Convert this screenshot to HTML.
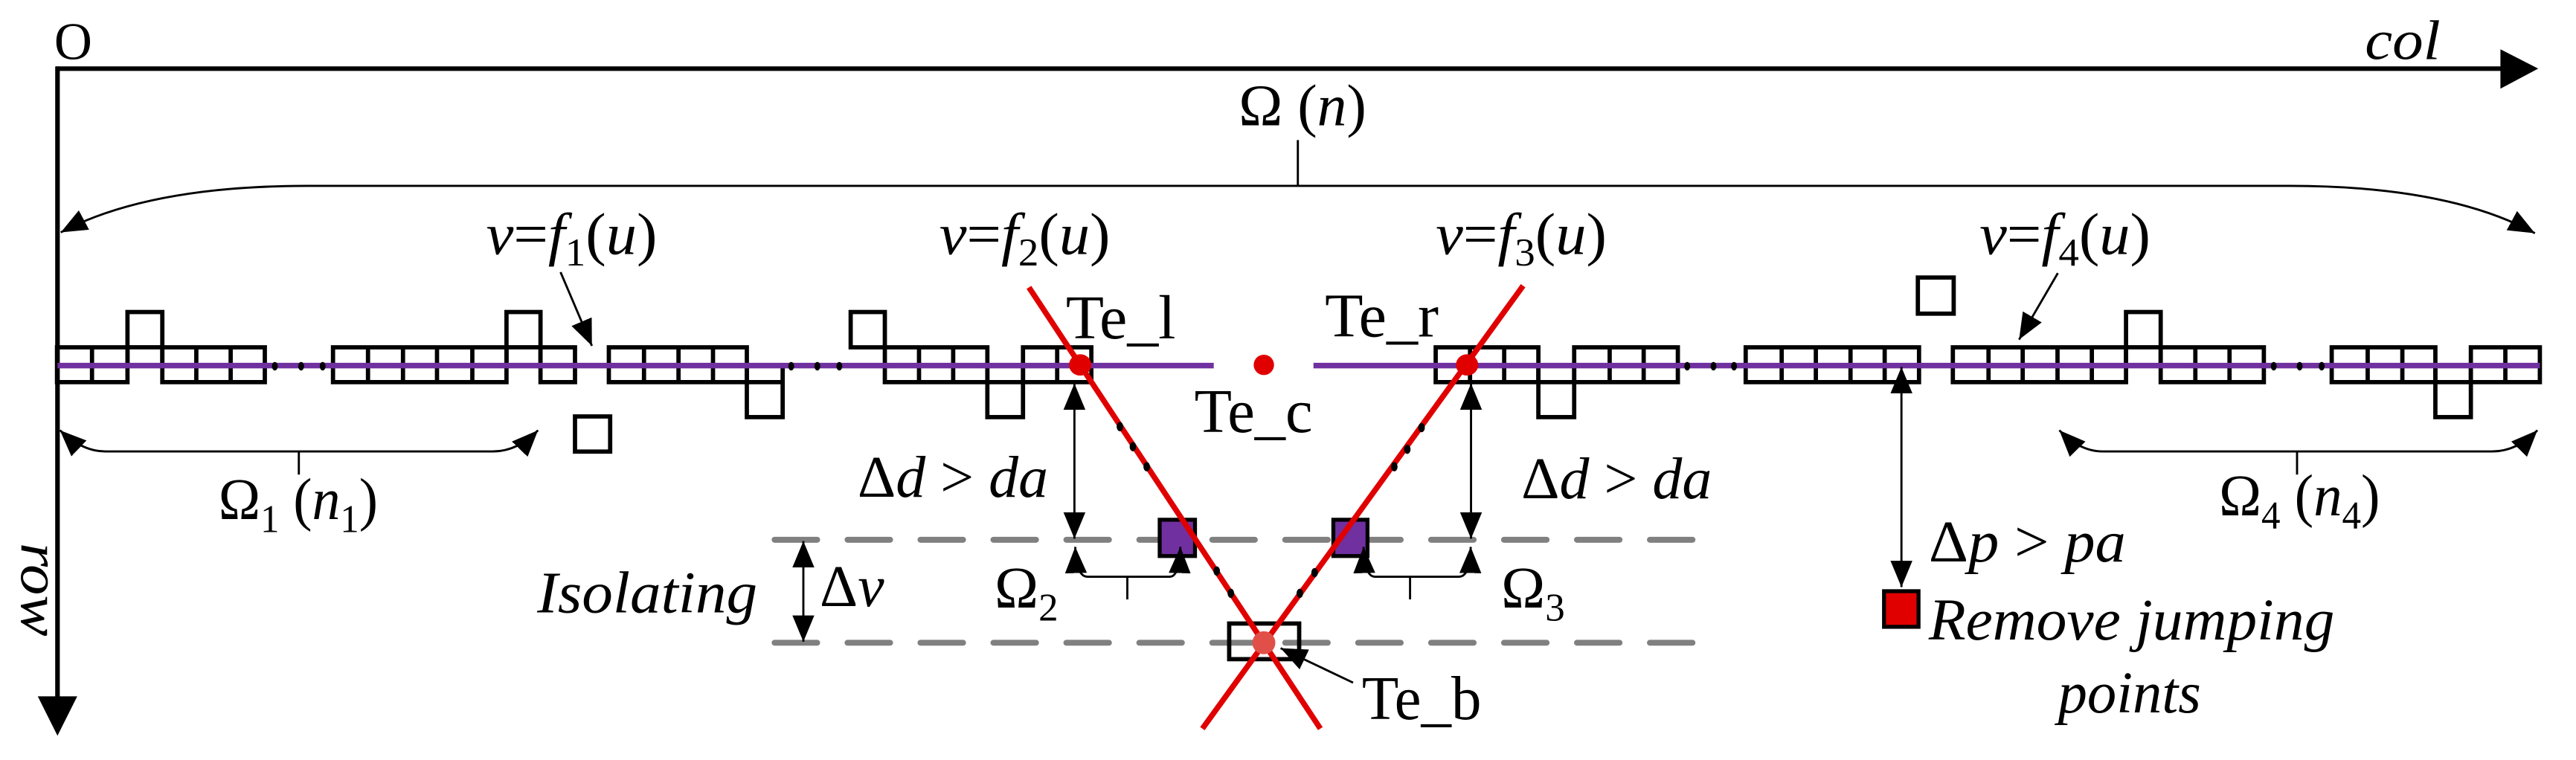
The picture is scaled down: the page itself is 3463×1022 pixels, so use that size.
<!DOCTYPE html>
<html><head><meta charset="utf-8"><style>
html,body{margin:0;padding:0;background:#fff;}
svg{display:block;}
svg text{font-family:'Liberation Serif','DejaVu Serif',serif;fill:#000;}
.c{fill:none;stroke:#000;stroke-width:2.6;}
.l{fill:none;stroke:#000;stroke-width:1.3;}
.i{font-style:italic;}
</style></head><body>
<svg width="3463" height="1022" viewBox="0 0 1568 462.8" preserveAspectRatio="none" xmlns="http://www.w3.org/2000/svg" font-family="Liberation Serif, DejaVu Serif, serif">
<defs>
<marker id="a" markerUnits="userSpaceOnUse" markerWidth="16" markerHeight="14" refX="12" refY="5" orient="auto-start-reverse" viewBox="0 0 12 10">
<path d="M0,0 L12,5 L0,10 z" fill="#000"/></marker>
</defs>
<rect width="1568" height="462.8" fill="#fff"/>

<!-- axes -->
<line x1="34" y1="41.8" x2="1524" y2="41.8" stroke="#000" stroke-width="2.8"/>
<polygon points="1522,30 1545,41.8 1522,54" fill="#000"/>
<line x1="35" y1="40.5" x2="35" y2="426" stroke="#000" stroke-width="2.8"/>
<polygon points="23,424 35,448 47,424" fill="#000"/>
<text x="33" y="36" font-size="32" font-family="Liberation Serif, serif">O</text>
<text x="1439.5" y="36" font-size="34" class="i" font-family="Liberation Serif, serif" textLength="46" lengthAdjust="spacingAndGlyphs">col</text>
<text transform="translate(13,330.5) rotate(90)" font-size="34" class="i" font-family="Liberation Serif, serif" textLength="57" lengthAdjust="spacingAndGlyphs">row</text>

<g font-family="Liberation Serif, serif">
<!-- Omega(n) brace -->
<path class="l" d="M37,141.5 Q90,113.2 187,113.2 L1393.8,113.2 Q1490,113.2 1543,142" marker-start="url(#a)" marker-end="url(#a)"/>
<line class="l" x1="790" y1="85.3" x2="790" y2="113.2"/>
<text x="754" y="76.2" font-size="36">Ω (<tspan class="i">n</tspan>)</text>

<!-- f labels -->
<text x="296" y="154.7" font-size="36" class="i" textLength="104" lengthAdjust="spacingAndGlyphs">v<tspan font-style="normal">=</tspan>f<tspan font-style="normal" font-size="24" dy="7">1</tspan><tspan font-style="normal" dy="-7">(</tspan>u<tspan font-style="normal">)</tspan></text>
<text x="571.8" y="154.7" font-size="36" class="i" textLength="104" lengthAdjust="spacingAndGlyphs">v<tspan font-style="normal">=</tspan>f<tspan font-style="normal" font-size="24" dy="7">2</tspan><tspan font-style="normal" dy="-7">(</tspan>u<tspan font-style="normal">)</tspan></text>
<text x="874" y="154.7" font-size="36" class="i" textLength="104" lengthAdjust="spacingAndGlyphs">v<tspan font-style="normal">=</tspan>f<tspan font-style="normal" font-size="24" dy="7">3</tspan><tspan font-style="normal" dy="-7">(</tspan>u<tspan font-style="normal">)</tspan></text>
<text x="1205" y="154.7" font-size="36" class="i" textLength="104" lengthAdjust="spacingAndGlyphs">v<tspan font-style="normal">=</tspan>f<tspan font-style="normal" font-size="24" dy="7">4</tspan><tspan font-style="normal" dy="-7">(</tspan>u<tspan font-style="normal">)</tspan></text>
<line class="l" x1="341.2" y1="165.7" x2="360.3" y2="210.6" marker-end="url(#a)"/>
<line class="l" x1="1252.6" y1="166.3" x2="1229" y2="206.8" marker-end="url(#a)"/>

<!-- cells: group1 -->
<g>
<rect class="c" x="34.7" y="211.5" width="42.9" height="21.2"/>
<line class="c" x1="56" y1="211.5" x2="56" y2="232.7"/>
<rect class="c" x="77.6" y="190" width="21.2" height="32.6"/>
<line class="c" x1="77.6" y1="211.5" x2="98.8" y2="211.5"/>
<rect class="c" x="98.8" y="211.5" width="62.4" height="21.2"/>
<line class="c" x1="119.5" y1="211.5" x2="119.5" y2="232.7"/>
<line class="c" x1="140.4" y1="211.5" x2="140.4" y2="232.7"/>
<!-- group2 -->
<rect class="c" x="202.7" y="211.5" width="105.6" height="21.2"/>
<line class="c" x1="224" y1="211.5" x2="224" y2="232.7"/>
<line class="c" x1="245.3" y1="211.5" x2="245.3" y2="232.7"/>
<line class="c" x1="266" y1="211.5" x2="266" y2="232.7"/>
<line class="c" x1="287.5" y1="211.5" x2="287.5" y2="232.7"/>
<rect class="c" x="308.3" y="190" width="20.7" height="32.6"/>
<line class="c" x1="308.3" y1="211.5" x2="329" y2="211.5"/>
<rect class="c" x="329" y="211.5" width="21" height="21.2"/>
<!-- group3 -->
<rect class="c" x="370.6" y="211.5" width="84" height="21.2"/>
<line class="c" x1="392" y1="211.5" x2="392" y2="232.7"/>
<line class="c" x1="413" y1="211.5" x2="413" y2="232.7"/>
<line class="c" x1="434" y1="211.5" x2="434" y2="232.7"/>
<rect class="c" x="454.6" y="222.6" width="21.8" height="31.4"/>
<line class="c" x1="454.6" y1="232.7" x2="476.4" y2="232.7"/>
<!-- group4 -->
<rect class="c" x="517.8" y="190" width="20.8" height="21.5"/>
<rect class="c" x="538.6" y="211.5" width="62.4" height="21.2"/>
<line class="c" x1="559.4" y1="211.5" x2="559.4" y2="232.7"/>
<line class="c" x1="580.2" y1="211.5" x2="580.2" y2="232.7"/>
<rect class="c" x="601" y="222.6" width="21.7" height="31.4"/>
<line class="c" x1="601" y1="232.7" x2="622.7" y2="232.7"/>
<rect class="c" x="622.7" y="211.5" width="41.6" height="21.2"/>
<line class="c" x1="643.5" y1="211.5" x2="643.5" y2="232.7"/>
<!-- group5 -->
<rect class="c" x="873.9" y="211.5" width="62.5" height="21.2"/>
<line class="c" x1="894.8" y1="211.5" x2="894.8" y2="232.7"/>
<line class="c" x1="915.6" y1="211.5" x2="915.6" y2="232.7"/>
<rect class="c" x="936.4" y="222.6" width="21.8" height="31.4"/>
<line class="c" x1="936.4" y1="232.7" x2="958.2" y2="232.7"/>
<rect class="c" x="958.2" y="211.5" width="63.1" height="21.2"/>
<line class="c" x1="979.8" y1="211.5" x2="979.8" y2="232.7"/>
<line class="c" x1="1000.5" y1="211.5" x2="1000.5" y2="232.7"/>
<!-- group6 -->
<rect class="c" x="1062.6" y="211.5" width="105.5" height="21.2"/>
<line class="c" x1="1084.5" y1="211.5" x2="1084.5" y2="232.7"/>
<line class="c" x1="1105.3" y1="211.5" x2="1105.3" y2="232.7"/>
<line class="c" x1="1126.4" y1="211.5" x2="1126.4" y2="232.7"/>
<line class="c" x1="1147.2" y1="211.5" x2="1147.2" y2="232.7"/>
<!-- group7 -->
<rect class="c" x="1188.7" y="211.5" width="105.4" height="21.2"/>
<line class="c" x1="1210.4" y1="211.5" x2="1210.4" y2="232.7"/>
<line class="c" x1="1231.2" y1="211.5" x2="1231.2" y2="232.7"/>
<line class="c" x1="1252.4" y1="211.5" x2="1252.4" y2="232.7"/>
<line class="c" x1="1273.3" y1="211.5" x2="1273.3" y2="232.7"/>
<rect class="c" x="1294.1" y="190" width="21.1" height="32.6"/>
<line class="c" x1="1294.1" y1="211.5" x2="1315.2" y2="211.5"/>
<rect class="c" x="1315.2" y="211.5" width="62.8" height="21.2"/>
<line class="c" x1="1336.3" y1="211.5" x2="1336.3" y2="232.7"/>
<line class="c" x1="1357.1" y1="211.5" x2="1357.1" y2="232.7"/>
<!-- group8 -->
<rect class="c" x="1419.3" y="211.5" width="63.1" height="21.2"/>
<line class="c" x1="1441.2" y1="211.5" x2="1441.2" y2="232.7"/>
<line class="c" x1="1462.3" y1="211.5" x2="1462.3" y2="232.7"/>
<rect class="c" x="1482.4" y="222.6" width="21.6" height="31.4"/>
<line class="c" x1="1482.4" y1="232.7" x2="1504" y2="232.7"/>
<rect class="c" x="1504" y="211.5" width="42" height="21.2"/>
<line class="c" x1="1525" y1="211.5" x2="1525" y2="232.7"/>
<!-- isolated -->
<rect class="c" x="350" y="253.6" width="21.4" height="21.4"/>
<rect class="c" x="1167.4" y="169" width="21.8" height="22"/>
</g>

<!-- purple lines -->
<line x1="35" y1="222.6" x2="738.8" y2="222.6" stroke="#7030a0" stroke-width="3.4"/>
<line x1="799.5" y1="222.6" x2="1546" y2="222.6" stroke="#7030a0" stroke-width="3.4"/>
<g fill="#000">
<ellipse cx="167.3" cy="223" rx="1.8" ry="2.6"/><ellipse cx="183.3" cy="223" rx="1.8" ry="2.6"/><ellipse cx="196.4" cy="223" rx="1.8" ry="2.6"/>
<ellipse cx="481.6" cy="223" rx="1.8" ry="2.6"/><ellipse cx="497.5" cy="223" rx="1.8" ry="2.6"/><ellipse cx="510.9" cy="223" rx="1.8" ry="2.6"/>
<ellipse cx="1027" cy="223" rx="1.8" ry="2.6"/><ellipse cx="1043" cy="223" rx="1.8" ry="2.6"/><ellipse cx="1055.5" cy="223" rx="1.8" ry="2.6"/>
<ellipse cx="1384" cy="223" rx="1.8" ry="2.6"/><ellipse cx="1399.8" cy="223" rx="1.8" ry="2.6"/><ellipse cx="1413.2" cy="223" rx="1.8" ry="2.6"/>
</g>

<!-- Omega1 brace -->
<path class="l" d="M36.5,262 Q50,274.9 64,274.9 L299.7,274.9 Q315,274.9 327.5,262" marker-start="url(#a)" marker-end="url(#a)"/>
<line class="l" x1="181.9" y1="274.9" x2="181.9" y2="289"/>
<text x="133" y="316" font-size="36" textLength="97" lengthAdjust="spacingAndGlyphs">Ω<tspan font-size="24" dy="8">1</tspan><tspan dy="-8"> (</tspan><tspan class="i">n</tspan><tspan font-size="24" dy="8">1</tspan><tspan dy="-8">)</tspan></text>
<!-- Omega4 brace -->
<path class="l" d="M1253.5,262 Q1266,274.9 1280,274.9 L1516.7,274.9 Q1532,274.9 1544.5,262" marker-start="url(#a)" marker-end="url(#a)"/>
<line class="l" x1="1398.2" y1="274.9" x2="1398.2" y2="289"/>
<text x="1350.7" y="313.8" font-size="36" textLength="98" lengthAdjust="spacingAndGlyphs">Ω<tspan font-size="24" dy="8">4</tspan><tspan dy="-8"> (</tspan><tspan class="i">n</tspan><tspan font-size="24" dy="8">4</tspan><tspan dy="-8">)</tspan></text>

<!-- dashed lines -->
<line x1="471.5" y1="328.7" x2="1034" y2="328.7" stroke="#808080" stroke-width="3.6" stroke-linecap="round" stroke-dasharray="25.9 18.5"/>
<line x1="471.5" y1="391.4" x2="1034" y2="391.4" stroke="#808080" stroke-width="3.6" stroke-linecap="round" stroke-dasharray="25.9 18.5"/>

<!-- purple squares & Te_b box -->
<rect x="705.9" y="316.5" width="21.5" height="22.1" fill="#7030a0" stroke="#000" stroke-width="2.4"/>
<rect x="811.6" y="316.5" width="20.8" height="22.1" fill="#7030a0" stroke="#000" stroke-width="2.4"/>
<rect class="c" x="748.2" y="379.7" width="42.6" height="21.7"/>

<!-- red lines -->
<line x1="626.3" y1="175" x2="803.7" y2="443.7" stroke="#e00000" stroke-width="3.4"/>
<line x1="927.1" y1="174" x2="731.9" y2="443.7" stroke="#e00000" stroke-width="3.4"/>
<g fill="#000">
<ellipse cx="681.7" cy="259.8" rx="2" ry="2.8"/><ellipse cx="689.6" cy="272" rx="2" ry="2.8"/><ellipse cx="698" cy="284.2" rx="2" ry="2.8"/>
<ellipse cx="740.6" cy="347.7" rx="2" ry="2.8"/><ellipse cx="749.2" cy="361.3" rx="2" ry="2.8"/>
<ellipse cx="865.3" cy="260.4" rx="2" ry="2.8"/><ellipse cx="856.6" cy="273.6" rx="2" ry="2.8"/><ellipse cx="848.7" cy="284.2" rx="2" ry="2.8"/>
<ellipse cx="800.2" cy="348.7" rx="2" ry="2.8"/><ellipse cx="791.2" cy="361.3" rx="2" ry="2.8"/>
</g>
<ellipse cx="657.5" cy="222.2" rx="6.8" ry="6.5" fill="#e00000"/>
<ellipse cx="769.3" cy="222.2" rx="6.2" ry="6.2" fill="#e00000"/>
<ellipse cx="893" cy="222.2" rx="6.8" ry="6.5" fill="#e00000"/>
<ellipse cx="769.3" cy="391.4" rx="7" ry="7" fill="#e05048"/>

<!-- Te labels -->
<text x="648.8" y="206" font-size="38" textLength="66.8" lengthAdjust="spacingAndGlyphs">Te_l</text>
<text x="806.5" y="205" font-size="38" textLength="69.2" lengthAdjust="spacingAndGlyphs">Te_r</text>
<text x="727" y="263" font-size="38" textLength="72" lengthAdjust="spacingAndGlyphs">Te_c</text>
<text x="829" y="437.8" font-size="38" textLength="72.7" lengthAdjust="spacingAndGlyphs">Te_b</text>
<line class="l" x1="823.6" y1="415.7" x2="779.5" y2="394.7" marker-end="url(#a)"/>

<!-- Delta d arrows -->
<line class="l" x1="654" y1="233.5" x2="654" y2="328" marker-start="url(#a)" marker-end="url(#a)"/>
<line class="l" x1="895.4" y1="233.5" x2="895.4" y2="328" marker-start="url(#a)" marker-end="url(#a)"/>
<text x="522" y="302.5" font-size="36" textLength="116" lengthAdjust="spacingAndGlyphs">Δ<tspan class="i">d</tspan> &gt; <tspan class="i">da</tspan></text>
<text x="926" y="303.5" font-size="36" textLength="116" lengthAdjust="spacingAndGlyphs">Δ<tspan class="i">d</tspan> &gt; <tspan class="i">da</tspan></text>

<!-- Omega2/3 braces -->
<path class="l" d="M654.5,333 Q655,351.2 662,351.2 L712,351.2 Q718,351.2 718.5,333" marker-start="url(#a)" marker-end="url(#a)"/>
<line class="l" x1="686.2" y1="351.2" x2="686.2" y2="365"/>
<path class="l" d="M830,333 Q830.5,351.2 837,351.2 L888,351.2 Q895,351.2 895.2,333" marker-start="url(#a)" marker-end="url(#a)"/>
<line class="l" x1="858.3" y1="351.2" x2="858.3" y2="365"/>
<text x="605.4" y="370" font-size="36">Ω<tspan font-size="24" dy="8">2</tspan></text>
<text x="913.8" y="370" font-size="36">Ω<tspan font-size="24" dy="8">3</tspan></text>

<!-- Isolating -->
<line class="l" x1="489" y1="329.5" x2="489" y2="390.8" marker-start="url(#a)" marker-end="url(#a)"/>
<text x="327" y="372.8" font-size="36" class="i" textLength="134" lengthAdjust="spacingAndGlyphs">Isolating</text>
<text x="499" y="369" font-size="36">Δ<tspan class="i">v</tspan></text>

<!-- Delta p -->
<line class="l" x1="1157.4" y1="223.5" x2="1157.4" y2="357.5" marker-start="url(#a)" marker-end="url(#a)"/>
<rect x="1146.8" y="360" width="21" height="21.7" fill="#e00000" stroke="#000" stroke-width="2.4"/>
<text x="1174" y="341.9" font-size="36" textLength="120" lengthAdjust="spacingAndGlyphs">Δ<tspan class="i">p</tspan> &gt; <tspan class="i">pa</tspan></text>
<text x="1174" y="389.4" font-size="36" class="i" textLength="247" lengthAdjust="spacingAndGlyphs">Remove jumping</text>
<text x="1252.7" y="433.8" font-size="36" class="i" textLength="87" lengthAdjust="spacingAndGlyphs">points</text>
</g>
</svg>
</body></html>
